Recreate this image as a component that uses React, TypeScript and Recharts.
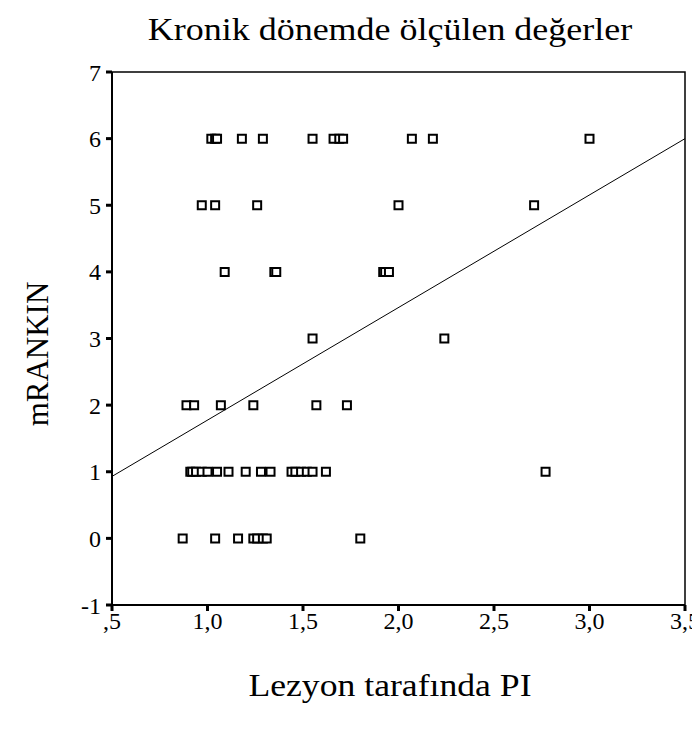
import React from 'react';
import { ScatterChart, Scatter, XAxis, YAxis, ReferenceLine, ReferenceArea } from 'recharts';

// PI values grouped by mRANKIN score
const piAtRankin0 = [0.87, 1.04, 1.16, 1.24, 1.26, 1.29, 1.31, 1.80];
const piAtRankin1 = [0.91, 0.92, 0.94, 0.97, 1.0, 1.05, 1.11, 1.20, 1.28, 1.33, 1.44, 1.46, 1.49, 1.52, 1.55, 1.62, 2.77];
const piAtRankin2 = [0.89, 0.93, 1.07, 1.24, 1.57, 1.73];
const piAtRankin3 = [1.55, 2.24];
const piAtRankin4 = [1.09, 1.35, 1.36, 1.92, 1.93, 1.95];
const piAtRankin5 = [0.97, 1.04, 1.26, 2.0, 2.71];
const piAtRankin6 = [1.02, 1.04, 1.05, 1.18, 1.29, 1.55, 1.66, 1.69, 1.71, 2.07, 2.18, 3.0];

const rankinLevels = [0, 1, 2, 3, 4, 5, 6];
const piGroups = [piAtRankin0, piAtRankin1, piAtRankin2, piAtRankin3, piAtRankin4, piAtRankin5, piAtRankin6];

const fitLineX = [0.5, 3.5];
const fitLineY = [0.93, 6.0];

const xTicks = [0.5, 1.0, 1.5, 2.0, 2.5, 3.0, 3.5];
const xTickLabels = [',5', '1,0', '1,5', '2,0', '2,5', '3,0', '3,5'];
const yTicks = [-1, 0, 1, 2, 3, 4, 5, 6, 7];

const title = 'Kronik dönemde ölçülen değerler';
const xTitle = 'Lezyon tarafında PI';
const yTitle = 'mRANKIN';

const points = piGroups.flatMap((g, i) => g.map((pi) => ({ x: pi, y: rankinLevels[i] })));

const FONT = '"Liberation Serif", "Times New Roman", serif';

export default function App() {
  const tickStyle = { fontFamily: FONT, fontSize: 24, fill: '#000' };
  const bigText = { fontFamily: FONT, fontSize: 31, color: '#000', whiteSpace: 'nowrap' as const };
  return (
    <div style={{ position: 'relative', width: 692, height: 723, background: '#fff' }}>
      <div style={{ position: 'absolute', left: 382, top: 22, width: 0, height: 0 }}>
        <div style={{ ...bigText, position: 'absolute', transform: 'translate(-50%, -50%) scaleX(1.16)' }}>{title}</div>
      </div>
      <div style={{ position: 'absolute', left: 382, top: 678, width: 0, height: 0 }}>
        <div style={{ ...bigText, position: 'absolute', transform: 'translate(-50%, -50%) scaleX(1.15)' }}>{xTitle}</div>
      </div>
      <div style={{ position: 'absolute', left: 30, top: 346, width: 0, height: 0 }}>
        <div style={{ ...bigText, position: 'absolute', transform: 'translate(-50%, -50%) rotate(-90deg)' }}>{yTitle}</div>
      </div>
      <ScatterChart width={692} height={723} margin={{ top: 64, right: 15, bottom: 96, left: 64 }}>
        <XAxis
          type="number"
          dataKey="x"
          domain={[0.5, 3.5]}
          ticks={xTicks}
          tickFormatter={(v: number) => xTickLabels[xTicks.indexOf(v)] ?? String(v)}
          height={30}
          tick={tickStyle}
          tickSize={6}
          tickMargin={1}
          axisLine={{ stroke: '#000', strokeWidth: 2 }}
          tickLine={{ stroke: '#000', strokeWidth: 3 }}
          allowDataOverflow
        />
        <YAxis
          type="number"
          dataKey="y"
          domain={[-1, 7]}
          ticks={yTicks}
          width={40}
          tick={tickStyle}
          tickSize={6}
          tickMargin={5}
          axisLine={{ stroke: '#000', strokeWidth: 2 }}
          tickLine={{ stroke: '#000', strokeWidth: 3 }}
          allowDataOverflow
        />
        <ReferenceArea x1={0.5} x2={3.5} y1={-1} y2={7} fill="none" stroke="#000" strokeWidth={1.5} ifOverflow="visible" />
        <ReferenceLine
          segment={[{ x: fitLineX[0], y: fitLineY[0] }, { x: fitLineX[1], y: fitLineY[1] }]}
          stroke="#000"
          strokeWidth={1}
          ifOverflow="visible"
        />
        <Scatter data={points} shape="square" fill="#fff" stroke="#000" strokeWidth={2} isAnimationActive={false} legendType="none" />
      </ScatterChart>
    </div>
  );
}
